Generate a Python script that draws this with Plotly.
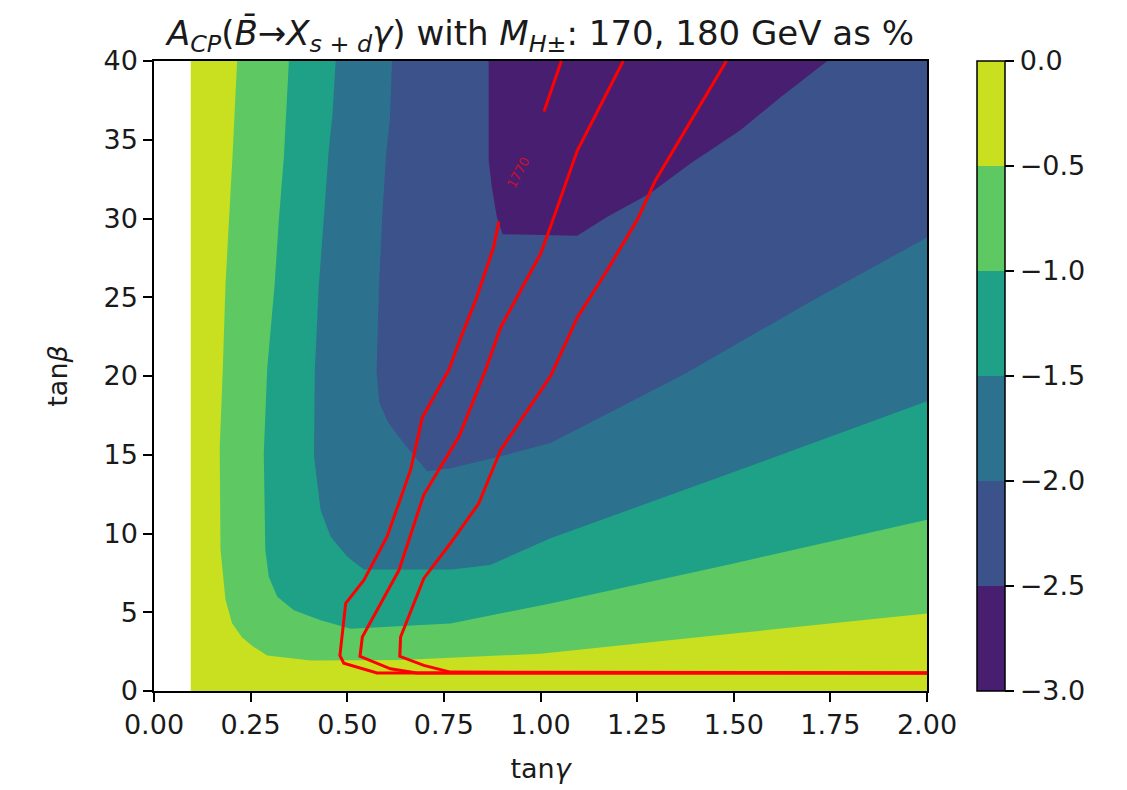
import plotly.graph_objects as go

# ---------------- data ----------------
X_RANGE = [0.0, 2.0]
Y_RANGE = [0.0, 40.0]
DATA_X_MIN = 0.095          # left edge of the computed region (white to the left)

LEVELS = [-3.0, -2.5, -2.0, -1.5, -1.0, -0.5, 0.0]
BAND_COLORS = ["#481f70", "#3b528b", "#2c728e", "#1fa188", "#5ec962", "#c8e020"]

# contour boundaries (tanγ, tanβ), from the top edge down and out to the right edge
B05_X = [0.215, 0.203, 0.194, 0.185, 0.178, 0.170, 0.172, 0.185, 0.202, 0.228, 0.258, 0.293, 0.405, 0.64, 1.0, 1.5, 2.0]
B05_Y = [40.0, 33.9, 29.9, 25.8, 20.5, 15.4, 9.0, 5.8, 4.3, 3.4, 2.8, 2.26, 1.94, 1.97, 2.37, 3.65, 4.92]

B10_X = [0.349, 0.336, 0.323, 0.312, 0.293, 0.284, 0.288, 0.297, 0.319, 0.362, 0.431, 0.509, 0.767, 1.026, 1.5, 2.0]
B10_Y = [40.0, 33.9, 29.9, 25.8, 20.5, 15.1, 8.95, 7.25, 5.98, 5.13, 4.49, 3.96, 4.28, 5.56, 8.1, 10.87]

B15_X = [0.470, 0.462, 0.452, 0.439, 0.426, 0.416, 0.414, 0.431, 0.457, 0.500, 0.543, 0.77, 0.87, 1.026, 1.5, 2.0]
B15_Y = [40.0, 36.7, 34.3, 29.9, 25.6, 20.3, 14.9, 11.5, 9.8, 8.53, 7.72, 7.72, 8.0, 9.7, 13.9, 18.4]

B20_X = [0.616, 0.610, 0.600, 0.590, 0.582, 0.576, 0.583, 0.607, 0.646, 0.681, 0.707, 0.770, 0.897, 1.026, 1.37, 1.69, 2.0]
B20_Y = [40.0, 36.2, 33.9, 29.9, 25.6, 20.3, 18.3, 17.0, 15.75, 14.7, 13.95, 14.16, 14.9, 15.75, 20.1, 24.6, 28.8]

B25_X = [0.866, 0.866, 0.874, 0.887, 0.902, 1.095, 1.172, 1.284, 1.388, 1.517, 1.621, 1.742]
B25_Y = [40.0, 33.7, 32.0, 30.1, 29.0, 28.9, 30.1, 31.6, 33.5, 35.6, 37.7, 40.0]

# red contour lines
RA_X = [0.892, 0.879, 0.832, 0.793, 0.763, 0.694, 0.664, 0.603, 0.543, 0.496, 0.481, 0.491, 0.577, 2.0]
RA_Y = [29.8, 28.2, 24.8, 22.4, 20.4, 17.35, 14.05, 9.8, 7.04, 5.56, 2.26, 1.77, 1.15, 1.15]

RB_X = [1.214, 1.095, 1.026, 1.0, 0.897, 0.858, 0.790, 0.698, 0.634, 0.539, 0.533, 0.612, 0.68, 2.0]
RB_Y = [40.0, 34.3, 29.5, 27.75, 23.1, 20.4, 16.2, 12.46, 7.68, 3.43, 2.2, 1.41, 1.15, 1.15]

RC_X = [1.481, 1.396, 1.297, 1.250, 1.172, 1.095, 1.026, 0.897, 0.840, 0.767, 0.698, 0.638, 0.636, 0.698, 0.767, 2.0]
RC_Y = [40.0, 36.5, 32.4, 29.9, 26.7, 23.7, 20.0, 15.3, 11.9, 9.38, 7.15, 3.43, 2.2, 1.63, 1.2, 1.15]

RD_X = [1.009, 1.054]
RD_Y = [36.8, 40.0]

LABEL_TEXT = "1770"
LABEL_POS = (0.943, 32.9)

X_TICKS = [0.0, 0.25, 0.5, 0.75, 1.0, 1.25, 1.5, 1.75, 2.0]
Y_TICKS = [0, 5, 10, 15, 20, 25, 30, 35, 40]

# ---------------- figure ----------------
FONT = "DejaVu Sans"
TXT = "#1a1a1a"
fig = go.Figure()

xmax, ymax = X_RANGE[1], Y_RANGE[1]

# base (highest) band: whole computed region
fig.add_trace(go.Scatter(
    x=[DATA_X_MIN, xmax, xmax, DATA_X_MIN], y=[Y_RANGE[0], Y_RANGE[0], ymax, ymax],
    fill="toself", fillcolor=BAND_COLORS[5], mode="none",
    hoverinfo="skip", showlegend=False))

for bx, by, col in [(B05_X, B05_Y, BAND_COLORS[4]),
                    (B10_X, B10_Y, BAND_COLORS[3]),
                    (B15_X, B15_Y, BAND_COLORS[2]),
                    (B20_X, B20_Y, BAND_COLORS[1])]:
    fig.add_trace(go.Scatter(
        x=list(bx) + [xmax], y=list(by) + [ymax],
        fill="toself", fillcolor=col, mode="none",
        hoverinfo="skip", showlegend=False))

fig.add_trace(go.Scatter(
    x=B25_X, y=B25_Y, fill="toself", fillcolor=BAND_COLORS[0], mode="none",
    hoverinfo="skip", showlegend=False))

for rx, ry in [(RA_X, RA_Y), (RB_X, RB_Y), (RC_X, RC_Y), (RD_X, RD_Y)]:
    fig.add_trace(go.Scatter(
        x=rx, y=ry, mode="lines", line=dict(color="#ff0000", width=3),
        hoverinfo="skip", showlegend=False))

# colour bar
n = len(BAND_COLORS)
cscale = []
for i, c in enumerate(BAND_COLORS):
    cscale.append([i / n, c])
    cscale.append([(i + 1) / n, c])
fig.add_trace(go.Scatter(
    x=[-10, -10], y=[-10, -10], mode="markers",
    marker=dict(size=1, color=[LEVELS[0], LEVELS[-1]], cmin=LEVELS[0], cmax=LEVELS[-1],
                colorscale=cscale, showscale=True,
                colorbar=dict(
                    x=(977 - 154) / 773, xanchor="left", xpad=0, ypad=0,
                    y=0.5, yanchor="middle", yref="paper",
                    len=1.0, lenmode="fraction", thickness=28,
                    outlinewidth=1.5, outlinecolor="black",
                    tickmode="array", tickvals=LEVELS,
                    ticktext=[f"{v:.1f}".replace("-", "\u2212") for v in LEVELS],
                    ticks="outside", ticklen=9, tickwidth=1.5, tickcolor="black",
                    tickfont=dict(family=FONT, size=27, color=TXT))),
    hoverinfo="skip", showlegend=False))

fig.add_annotation(x=LABEL_POS[0], y=LABEL_POS[1], text=LABEL_TEXT, showarrow=False,
                   textangle=-62, font=dict(family=FONT, size=13, color="#c8102e"))

title = ("<i>A</i><sub><i>CP</i></sub>(<i>B\u0304</i>\u2192<i>X</i><sub><i>s</i> + <i>d</i></sub><i>\u03b3</i>)"
         " with <i>M</i><sub><i>H</i>\u00b1</sub>: 170, 180 GeV as %")

fig.update_layout(
    width=1127, height=790,
    margin=dict(l=154, r=200, t=61, b=98.5, pad=0),
    paper_bgcolor="white", plot_bgcolor="white",
    font=dict(family=FONT, size=27, color=TXT),
    title=dict(text=title, x=(154 + 927) / 2 / 1127, xanchor="center",
               y=1 - 33 / 790, yanchor="middle",
               font=dict(family=FONT, size=34, color=TXT)),
    xaxis=dict(range=X_RANGE, tickmode="array", tickvals=X_TICKS,
               ticktext=[f"{v:.2f}" for v in X_TICKS],
               ticks="outside", ticklen=9, tickwidth=1.5, tickcolor="black",
               showline=True, linecolor="black", linewidth=1.5, mirror=True,
               showgrid=False, zeroline=False,
               title=dict(text="tan<i>\u03b3</i>", standoff=20,
                          font=dict(family=FONT, size=27, color=TXT))),
    yaxis=dict(range=Y_RANGE, tickmode="array", tickvals=Y_TICKS,
               ticks="outside", ticklen=9, tickwidth=1.5, tickcolor="black",
               showline=True, linecolor="black", linewidth=1.5, mirror=True,
               showgrid=False, zeroline=False,
               title=dict(text="tan<i>\u03b2</i>", standoff=28,
                          font=dict(family=FONT, size=27, color=TXT))),
)

fig.write_html("out.html")
